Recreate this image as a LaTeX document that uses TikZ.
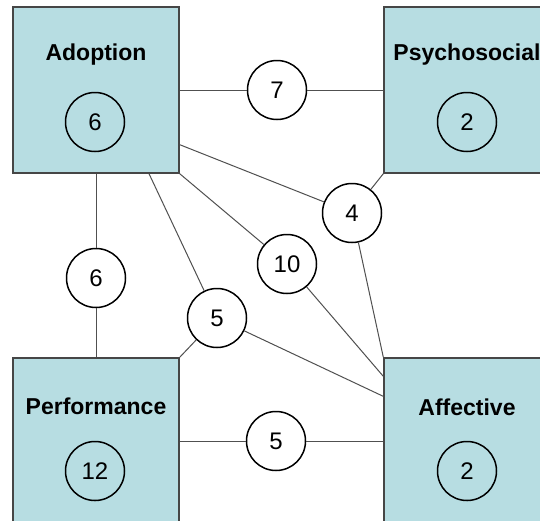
\documentclass[tikz,border=0pt]{standalone}
\usepackage{fontspec}
\setmainfont{Liberation Sans}
\usetikzlibrary{calc}
\definecolor{boxfill}{RGB}{183,221,226}
\definecolor{boxline}{RGB}{70,70,70}
\definecolor{edgeline}{RGB}{80,80,80}
\begin{document}
\begin{tikzpicture}[x=1pt,y=-1pt,
  area/.style={draw=boxline,line width=1.3pt,fill=boxfill,minimum size=166pt,inner sep=0pt},
  areatitle/.style={font=\fontsize{23}{27}\selectfont\bfseries,inner sep=0pt},
  count/.style={draw=black,line width=1.5pt,fill=white,circle,minimum size=59pt,inner sep=0pt,font=\fontsize{24}{28}\selectfont},
  innercount/.style={count,fill=none},
  link/.style={draw=edgeline,line width=1pt}]
\useasboundingbox (0,0) rectangle (540,520);
\clip (0,0) rectangle (540,520);
\fill[white] (0,0) rectangle (540,520);
% boxes
\node[area] (adopt) at (96,90) {};
\node[area] (psy) at (467,90) {};
\node[area] (perf) at (96,441) {};
\node[area] (aff) at (467,441) {};
% titles and inner counts
\node[areatitle] (adoptT) at (96,55) {Adoption};
\node[innercount] (adoptN) at (95,122) {6};
\node[areatitle] (psyT) at (467,55) {Psychosocial};
\node[innercount] (psyN) at (467,122) {2};
\node[areatitle] (perfT) at (96,406) {Performance};
\node[innercount] (perfN) at (95,471) {12};
\node[areatitle] (affT) at (467,407) {Affective};
\node[innercount] (affN) at (467,471) {2};
% edge circles
\node[count] (c7) at (277,90) {7};
\node[count] (c4) at (352,213) {4};
\node[count] (c10) at (287,264) {10};
\node[count] (c5m) at (217,318) {5};
\node[count] (c6) at (96,278) {6};
\node[count] (c5b) at (276,441) {5};
% connectors
\path[link] (adopt.east) -- (c7);
\path[link] (c7) -- (psy.west);
\path[link] ($(adopt.south east)+(0,-29)$) -- (c4);
\path[link] (c4) -- (psy.south west);
\path[link] (c4) -- (aff.north west);
\path[link] (adopt.south east) -- (c10);
\path[link] (c10) -- ($(aff.north west)+(0,19)$);
\path[link] ($(adopt.south)+(53,0)$) -- (c5m);
\path[link] (c5m) -- (perf.north east);
\path[link] (c5m) -- ($(aff.north west)+(0,39)$);
\path[link] (adopt.south) -- (c6);
\path[link] (c6) -- (perf.north);
\path[link] (perf.east) -- (c5b);
\path[link] (c5b) -- (aff.west);
\end{tikzpicture}
\end{document}
